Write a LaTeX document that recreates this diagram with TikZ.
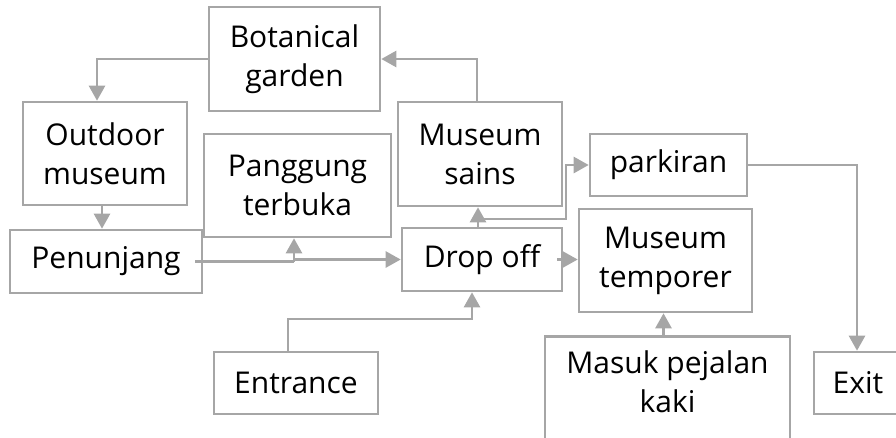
\documentclass[tikz,border=0pt]{standalone}
\usepackage{fontspec}
\setmainfont{Open Sans}
\usetikzlibrary{arrows.meta,calc}
\definecolor{lc}{RGB}{166,166,166}
\begin{document}
\begin{tikzpicture}[x=1pt,y=-1pt,
  box/.style={draw=lc,line width=2.6pt,rectangle,inner sep=0pt,align=center,
    font=\fontsize{30}{39}\selectfont,text=black},
  arr/.style={draw=lc,line width=2.6pt,-{Triangle[length=15pt,width=16pt]}},
  ln/.style={draw=lc,line width=2.6pt}]
\useasboundingbox (0,0) rectangle (896,437);
\clip (0,0) rectangle (896,437);
\node[box,minimum width=171pt,minimum height=104pt] (bot) at (294.5,59) {Botanical\\garden};
\node[box,minimum width=164pt,minimum height=103pt] (out) at (105,153.5) {Outdoor\\museum};
\node[box,minimum width=187pt,minimum height=103pt] (pan) at (297.5,185.5) {Panggung\\terbuka};
\node[box,minimum width=164pt,minimum height=104pt] (sains) at (480,154) {Museum\\sains};
\node[box,minimum width=157pt,minimum height=62pt] (park) at (668.5,165) {parkiran};
\node[box,minimum width=192pt,minimum height=63pt] (pen) at (106,261.5) {Penunjang};
\node[box,minimum width=160pt,minimum height=63pt] (drop) at (482,259.5) {Drop off};
\node[box,minimum width=173pt,minimum height=103pt] (temp) at (665.5,260.5) {Museum\\temporer};
\node[box,minimum width=164pt,minimum height=62pt] (ent) at (296,383) {Entrance};
\node[box,minimum width=245pt,minimum height=150pt,anchor=north,
  label={[box,draw=none,anchor=north,yshift=-14pt]north:{Masuk pejalan\\kaki}}] (masuk) at (667.5,335) {};
\node[box,minimum width=88pt,minimum height=62pt] (exit) at (858,383) {Exit};
\coordinate (k1) at (566,219);
\coordinate (k2) at (472,319);
\coordinate (j1) at ([xshift=-3.5pt]pan.south |- pen.east);
% connectors
\draw[arr] (bot.west) -| ([xshift=-8pt]out.north);
\draw[arr] ([xshift=-3pt]sains.north) |- (bot.east);
\draw[arr] ([xshift=-3pt]out.south) -- ([xshift=-3pt]out.south |- pen.north);
\draw[ln] ([xshift=-8pt]pen.east) -- (j1);
\draw[arr] (j1) |- (drop.west);
\draw[arr] (j1) -- (j1 |- pan.south);
\draw[arr] ([xshift=-4pt]drop.north) -- ([xshift=-4pt]drop.north |- sains.south);
\draw[arr] ([xshift=-4pt]drop.north) |- (k1) |- (park.west);
\draw[arr] ([xshift=-6pt]drop.east) -- (temp.west |- drop.east);
\draw[arr] ([xshift=-8pt]ent.north) |- (k2) -- (k2 |- drop.south);
\draw[arr] ([xshift=-2pt]temp.south |- masuk.north) -- ([xshift=-2pt]temp.south);
\draw[arr] (park.east) -| ([xshift=-1pt]exit.north);
\end{tikzpicture}
\end{document}
